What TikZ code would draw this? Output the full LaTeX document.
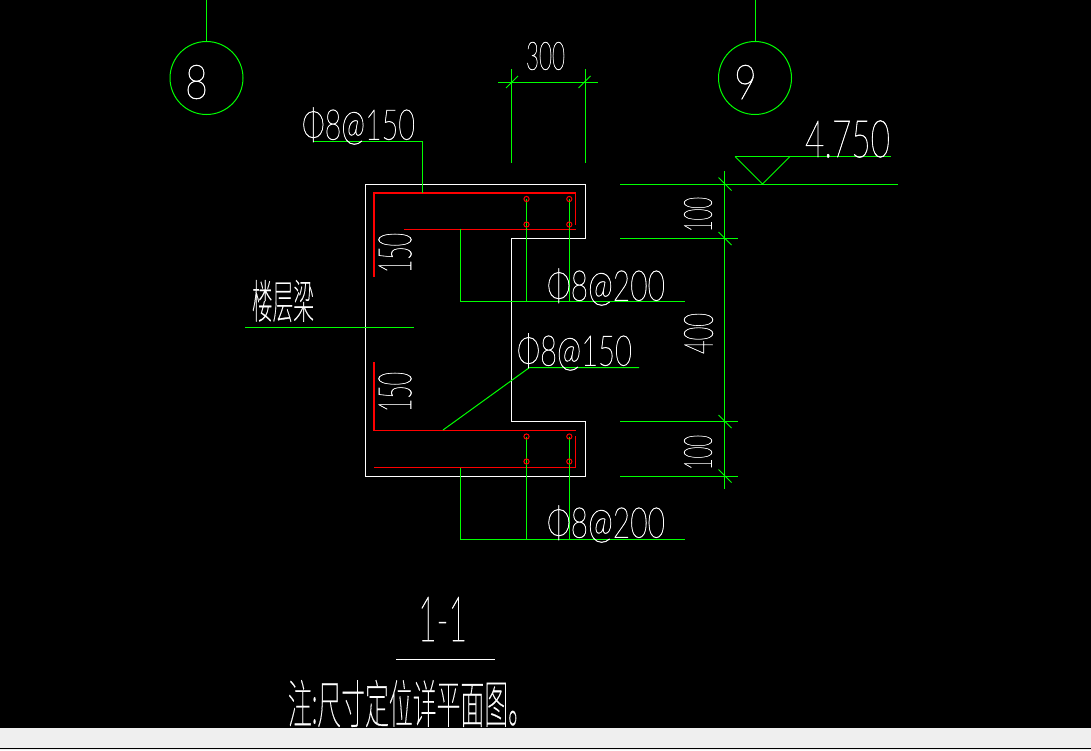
\documentclass[tikz,border=0pt]{standalone}
\usepackage{fontspec}
\font\cadf="Lato Hairline:embolden=1.2" at 10pt
\font\cjkf="Noto Sans CJK SC Thin:embolden=0.6" at 10pt
\definecolor{cadgreen}{RGB}{0,255,0}
\definecolor{cadred}{RGB}{255,0,0}
\definecolor{barg}{RGB}{239,239,239}
\tikzset{
  gl/.style={draw=cadgreen,line width=1pt},
  wl/.style={draw=white,line width=0.9pt},
  rl/.style={draw=cadred,line width=1.2pt},
  rlt/.style={draw=cadred,line width=1pt},
  bar/.style={draw=cadred,line width=1pt},
  cad/.style={inner sep=0pt,outer sep=0pt,text=white,anchor=center}
}
\newcommand{\cadt}[7]{\node[cad,rotate=#6] (#1) at (#2,#3) {\resizebox*{#4pt}{#5pt}{\cadf #7}};}
\begin{document}
\begin{tikzpicture}[x=1pt,y=-1pt]
\useasboundingbox (0,0) rectangle (1091,750);
\fill[black] (0,0) rectangle (1091,750);
\fill[barg] (0,728) rectangle (1091,750);
\fill[black] (0,747.5) rectangle (1091,748.8);
% axis bubbles
\node[gl,circle,minimum size=73pt,inner sep=0pt] (c8) at (206.5,78) {};
\node[gl,circle,minimum size=73pt,inner sep=0pt] (c9) at (755,78) {};
\coordinate (t8) at (206.5,0); \coordinate (t9) at (755,0);
\draw[gl] (t8) -- (c8.north);
\draw[gl] (t9) -- (c9.north);
\cadt{n8}{196.5}{82}{23}{34}{0}{8}
\cadt{n9}{745.5}{82}{23}{34}{0}{9}
% concrete outline
\draw[wl] (365.5,184) -- (585,184) -- (585,238) -- (511.5,238) -- (511.5,421.5) -- (585,421.5) -- (585,476) -- (365.5,476) -- cycle;
% rebar
\draw[rl] (374,277) -- (374,193) -- (575.5,193);
\draw[rlt] (575.5,193) -- (575.5,225);
\draw[rlt] (404,229) -- (575.5,229);
\draw[rl] (374,362) -- (374,430.5) -- (575.5,430.5);
\draw[rlt] (374,467.5) -- (575.5,467.5) -- (575.5,436);
% green leaders
\coordinate (a1) at (526.5,199); \coordinate (a2) at (569.3,199);
\coordinate (a3) at (526.5,436.5); \coordinate (a4) at (569.3,436.5);
\draw[gl] (313,141) -- (422,141) -- (422,193);
\draw[gl] (460,229) -- (460,301) -- (685,301);
\draw[gl] (a1) -- (526.5,301);
\draw[gl] (a2) -- (569.3,301);
\draw[gl] (460,468) -- (460,539) -- (685,539);
\draw[gl] (a3) -- (526.5,539);
\draw[gl] (a4) -- (569.3,539);
\draw[gl] (443,430) -- (529.5,367.5) -- (639,367.5);
\draw[gl] (245,327.5) -- (414,327.5);
% bar circles
\foreach \p in {(526.5,199),(569.3,199),(526.5,224.5),(569.3,224.5),(526.5,436.5),(569.3,436.5),(526.5,461.5),(569.3,461.5)}
  \draw[bar] \p circle (2.6);
% top dimension
\draw[gl] (511,69) -- (511,163);
\draw[gl] (585.5,69) -- (585.5,163);
\draw[gl] (498,82.5) -- (598,82.5);
\draw[gl] (506,88) -- (518,76);
\draw[gl] (578.5,88) -- (590.5,76);
% elevation
\draw[gl] (735,156.5) -- (891,156.5);
\draw[gl] (735,156.5) -- (762.5,184) -- (790,156.5);
\draw[gl] (620,184) -- (898,184);
% right dimensions
\draw[gl] (724.5,171) -- (724.5,489);
\draw[gl] (620,238.5) -- (738,238.5);
\draw[gl] (620,421.5) -- (738,421.5);
\draw[gl] (620,476) -- (738,476);
\foreach \yy in {184,238.5,421.5,476}
  \draw[gl] (718.5,\yy-6.5) -- (731.5,\yy+6.5);
% text
\cadt{t300}{545.5}{56}{39}{28}{0}{300}
\cadt{t4750}{847.5}{139}{85}{37}{0}{4.750}
\cadt{lab1}{358.5}{126}{113}{37}{0}{Φ8@150}
\cadt{lab2}{606}{287}{118}{37}{0}{Φ8@200}
\cadt{lab3}{574.5}{352}{115}{37}{0}{Φ8@150}
\cadt{lab4}{606}{524}{118}{37}{0}{Φ8@200}
\cadt{t150a}{395}{253}{40}{33}{90}{150}
\cadt{t150b}{395}{392}{40}{33}{90}{150}
\cadt{t100a}{698}{214.5}{35}{28}{90}{100}
\cadt{t400}{698.5}{333.5}{41}{29}{90}{400}
\cadt{t100b}{698}{452.5}{35}{28}{90}{100}
\cadt{beam}{283}{301}{62}{42}{0}{\cjkf 楼层梁}
\cadt{title}{442.5}{619}{49}{44}{0}{1-1}
\draw[wl] (396,659.5) -- (495,659.5);
\cadt{note}{410}{703.5}{244}{47}{0}{\cjkf 注:尺寸定位详平面图。}
\end{tikzpicture}
\end{document}
